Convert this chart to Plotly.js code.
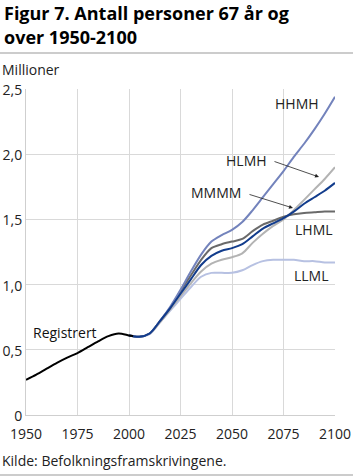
<!DOCTYPE html>
<html>
<head>
<meta charset="utf-8">
<script src="https://cdn.plot.ly/plotly-3.0.1.min.js"></script>
<style>html,body{margin:0;padding:0;background:#fff;}#chart{width:353px;height:476px;}</style>
</head>
<body>
<div id="chart"></div>
<script>
// Registered data
const regYears = [1950,1955,1960,1965,1970,1975,1980,1985,1990,1995,2000,2002];
const regValues = [0.27,0.31,0.355,0.40,0.44,0.475,0.52,0.565,0.605,0.625,0.61,0.605];

// Projection years
const projYears = [2000,2005,2010,2015,2020,2025,2030,2035,2040,2045,2050,2055,2060,2065,2070,2075,2080,2085,2090,2095,2100];
const HHMH = [0.61,0.60,0.625,0.72,0.83,0.96,1.10,1.23,1.33,1.38,1.42,1.48,1.57,1.67,1.77,1.87,1.98,2.08,2.19,2.31,2.44];
const LHML = [0.61,0.60,0.625,0.72,0.82,0.95,1.07,1.19,1.28,1.31,1.33,1.35,1.41,1.46,1.49,1.52,1.54,1.55,1.555,1.56,1.56];
const MMMM = [0.61,0.60,0.625,0.72,0.82,0.93,1.04,1.15,1.22,1.26,1.28,1.31,1.37,1.43,1.47,1.51,1.56,1.62,1.67,1.72,1.78];
const HLMH = [0.61,0.60,0.625,0.71,0.81,0.91,1.01,1.10,1.16,1.19,1.21,1.24,1.32,1.39,1.45,1.50,1.57,1.65,1.73,1.81,1.90];
const LLML = [0.61,0.60,0.62,0.71,0.80,0.89,0.98,1.06,1.09,1.09,1.09,1.11,1.15,1.18,1.19,1.19,1.19,1.18,1.18,1.17,1.17];

const xTicks = [1950,1975,2000,2025,2050,2075,2100];
const yTicks = [0,0.5,1.0,1.5,2.0,2.5];
const yTickText = ["0","0,5","1,0","1,5","2,0","2,5"];

const FONT = "Open Sans, sans-serif";

function line(x, y, color, name) {
  return {x: x, y: y, type: 'scatter', mode: 'lines', name: name,
    line: {color: color, width: 2, shape: 'spline', smoothing: 0.8}, hoverinfo: 'skip'};
}

const data = [
  line(projYears, LLML, '#b7c1e2', 'LLML'),
  line(projYears, HLMH, '#b3b3b3', 'HLMH'),
  line(projYears, LHML, '#6a6a6a', 'LHML'),
  line(projYears, HHMH, '#7383bc', 'HHMH'),
  line(projYears, MMMM, '#123c8c', 'MMMM'),
  line(regYears, regValues, '#000000', 'Registrert')
];

// pixel helpers for paper coords (plot area x 26..335, y 89..415)
const px = p => (p - 26) / 309;
const py = p => (415 - p) / 326;

const txt = {family: FONT, size: 14, color: '#222'};

const layout = {
  width: 353, height: 476,
  margin: {l: 26, r: 18, t: 89, b: 61, pad: 0},
  paper_bgcolor: '#fff', plot_bgcolor: '#fff',
  showlegend: false,
  xaxis: {
    range: [1950, 2100], tickvals: xTicks, ticktext: xTicks.map(String),
    showgrid: true, gridcolor: '#d9d9d9', gridwidth: 1,
    zeroline: false, showline: true, linecolor: '#cfcfcf', linewidth: 1,
    ticks: '', ticklabelstandoff: 6, tickfont: {family: FONT, size: 14, color: '#222'}, fixedrange: true
  },
  yaxis: {
    range: [0, 2.5], tickvals: yTicks, ticktext: yTickText,
    showgrid: true, gridcolor: '#d9d9d9', gridwidth: 1,
    zeroline: false, showline: true, linecolor: '#cfcfcf', linewidth: 1,
    ticks: '', ticklabelshift: 1, tickfont: {family: FONT, size: 14, color: '#222'}, fixedrange: true
  },
  shapes: [
    {type: 'line', xref: 'paper', yref: 'paper', x0: px(0), x1: px(353), y0: py(53), y1: py(53), line: {color: '#999', width: 1}},
    {type: 'line', xref: 'paper', yref: 'paper', x0: px(0), x1: px(353), y0: py(475), y1: py(475), line: {color: '#999', width: 1}}
  ],
  annotations: [
    {text: '<b>Figur 7. Antall personer 67 år og</b>', xref: 'paper', yref: 'paper', x: px(2), y: py(13), xanchor: 'left', yanchor: 'middle', showarrow: false, font: {family: FONT, size: 18, color: '#000'}},
    {text: '<b>over 1950-2100</b>', xref: 'paper', yref: 'paper', x: px(2), y: py(37), xanchor: 'left', yanchor: 'middle', showarrow: false, font: {family: FONT, size: 18, color: '#000'}},
    {text: 'Millioner', xref: 'paper', yref: 'paper', x: px(0), y: py(70), xanchor: 'left', yanchor: 'middle', showarrow: false, font: txt},
    {text: 'Kilde: Befolkningsframskrivingene.', xref: 'paper', yref: 'paper', x: px(0), y: py(460), xanchor: 'left', yanchor: 'middle', showarrow: false, font: txt},
    {text: 'Registrert', xref: 'paper', yref: 'paper', x: px(31), y: py(332), xanchor: 'left', yanchor: 'middle', showarrow: false, font: {family: FONT, size: 14, color: '#111'}},
    {text: 'HHMH', xref: 'paper', yref: 'paper', x: px(321), y: py(104), xanchor: 'right', yanchor: 'middle', showarrow: false, font: txt},
    {text: 'HLMH', xref: 'paper', yref: 'paper', x: px(269), y: py(160), xanchor: 'right', yanchor: 'middle', showarrow: false, font: txt},
    {text: 'MMMM', xref: 'paper', yref: 'paper', x: px(243), y: py(192), xanchor: 'right', yanchor: 'middle', showarrow: false, font: txt},
    {text: 'LHML', xref: 'paper', yref: 'paper', x: px(335), y: py(229), xanchor: 'right', yanchor: 'middle', showarrow: false, font: txt},
    {text: 'LLML', xref: 'paper', yref: 'paper', x: px(331), y: py(275), xanchor: 'right', yanchor: 'middle', showarrow: false, font: txt},
    {text: '', xref: 'paper', yref: 'paper', x: px(319), y: py(177), showarrow: true, arrowhead: 2, arrowsize: 1, arrowwidth: 0.8, arrowcolor: '#222', ax: -46, ay: -16, standoff: 0},
    {text: '', xref: 'paper', yref: 'paper', x: px(293), y: py(208), showarrow: true, arrowhead: 2, arrowsize: 1, arrowwidth: 0.8, arrowcolor: '#222', ax: -45, ay: -14, standoff: 0}
  ]
};

Plotly.newPlot('chart', data, layout, {displayModeBar: false, staticPlot: true});
</script>
</body>
</html>
